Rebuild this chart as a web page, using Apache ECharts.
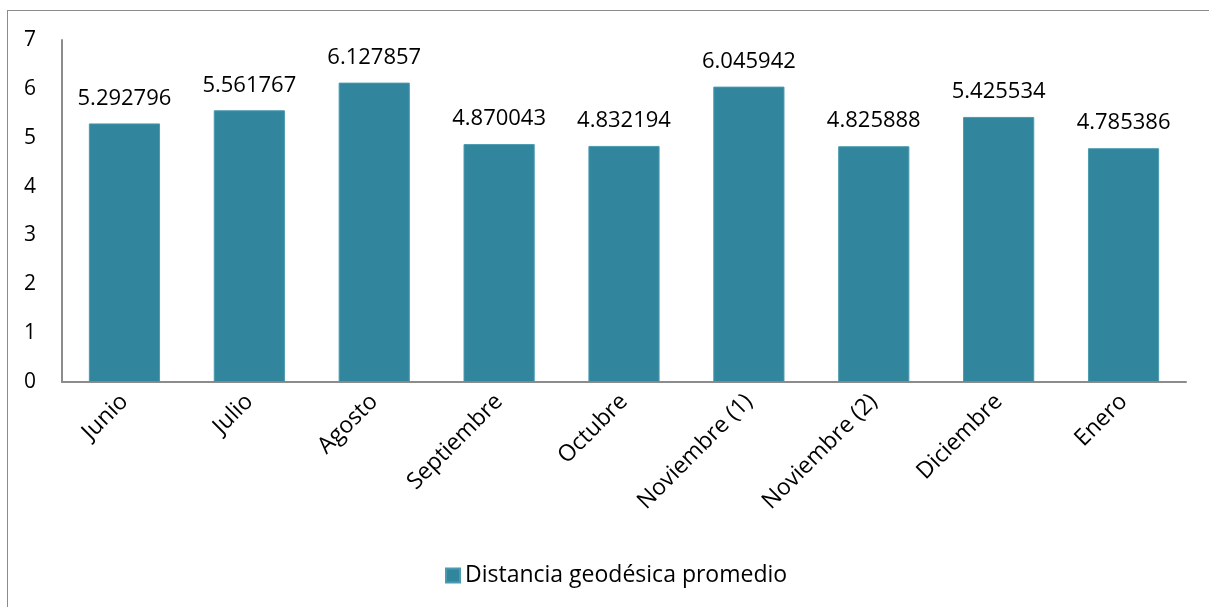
<!DOCTYPE html>
<html>
<head>
<meta charset="utf-8">
<script src="https://cdn.jsdelivr.net/npm/echarts@6/dist/echarts.min.js"></script>
<style>
  html, body { margin: 0; padding: 0; background: #fff; }
  #frame { position: absolute; left: 7px; top: 10px; width: 1210px; height: 610px; border: 1.5px solid #8c8c8c; box-sizing: border-box; }
  #chart { position: absolute; left: 0; top: 0; width: 1209px; height: 607px; }
</style>
</head>
<body>
<div id="frame"></div>
<div id="chart"></div>
<script>
// Monthly averages of geodesic distance
const categories = ['Junio', 'Julio', 'Agosto', 'Septiembre', 'Octubre', 'Noviembre (1)', 'Noviembre (2)', 'Diciembre', 'Enero'];
const distancia = [5.292796, 5.561767, 6.127857, 4.870043, 4.832194, 6.045942, 4.825888, 5.425534, 4.785386];
const seriesName = 'Distancia geodésica promedio';

const FONT = '"Open Sans", Lato, sans-serif';
const chart = echarts.init(document.getElementById('chart'), null, { renderer: 'canvas' });
chart.setOption({
  animation: false,
  backgroundColor: 'transparent',
  grid: { left: 62, right: 23, top: 40, bottom: 225, containLabel: false },
  legend: {
    bottom: 15,
    left: 440,
    itemWidth: 14, itemHeight: 14,
    itemGap: 8,
    icon: 'rect',
    textStyle: { fontFamily: FONT, fontSize: 23, color: '#000', padding: [0, 0, 0, 0] },
    data: [seriesName]
  },
  xAxis: {
    type: 'category',
    data: categories,
    axisLine: { lineStyle: { color: '#8c8c8c', width: 2 } },
    axisTick: { show: false },
    axisLabel: { rotate: 45, fontFamily: FONT, fontSize: 23, color: '#000', margin: 16, interval: 0 }
  },
  yAxis: {
    type: 'value',
    min: 0, max: 7, interval: 1,
    axisLine: { show: true, lineStyle: { color: '#8c8c8c', width: 2 } },
    axisTick: { show: false },
    splitLine: { show: false },
    axisLabel: { fontFamily: FONT, fontSize: 21, color: '#000', margin: 26 }
  },
  series: [{
    name: seriesName,
    type: 'bar',
    data: distancia,
    barWidth: '57%',
    itemStyle: { color: '#31859c', borderColor: '#4a9bb0', borderWidth: 1 },
    label: {
      show: true, position: 'top', distance: 14,
      fontFamily: FONT, fontSize: 22, color: '#000',
      formatter: p => p.value.toFixed(6)
    }
  }]
});
</script>
</body>
</html>
